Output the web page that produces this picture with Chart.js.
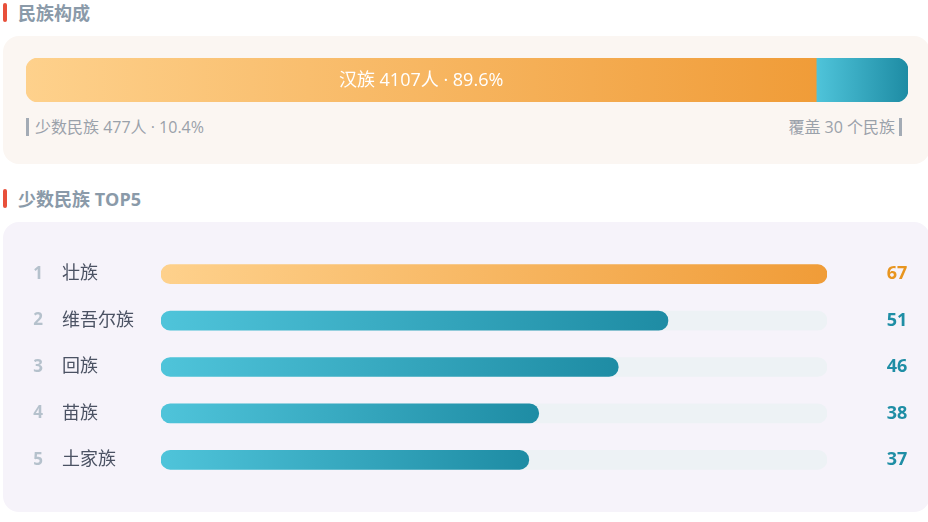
<!DOCTYPE html>
<html><head><meta charset="utf-8">
<script src="https://cdn.jsdelivr.net/npm/chart.js@4/dist/chart.umd.min.js"></script>
<style>
html,body{margin:0;padding:0;background:#fff;width:928px;height:522px;overflow:hidden;position:relative;font-family:"Open Sans","Noto Sans CJK SC",sans-serif;}
.ttl{position:absolute;left:18px;font-size:18px;font-weight:bold;color:#8a9aa9;line-height:22px;}
.mk{position:absolute;left:3px;width:4px;height:19px;border-radius:2px;background:#e8503a;}
.panel{position:absolute;left:3px;width:927px;border-radius:16px;}
.sub{position:absolute;font-size:16px;color:#9aa1aa;line-height:20px;top:117px;}
.bar{position:absolute;width:3px;height:18px;background:#a3abb5;top:118px;}
canvas{position:absolute;}
</style></head>
<body>
<div class="mk" style="top:3px"></div><div class="ttl" style="top:2px">民族构成</div>
<div class="panel" style="top:36px;height:128px;background:#fbf6f2"></div>
<div class="bar" style="left:26px"></div><div class="sub" id="subL" style="left:35px"></div>
<div class="bar" style="left:899px"></div><div class="sub" id="subR" style="right:33px"></div>
<div class="mk" style="top:189px"></div><div class="ttl" style="top:188px">少数民族 TOP5</div>
<div class="panel" style="top:222px;height:290px;background:#f6f3fa"></div>
<div style="position:absolute;left:26px;top:58px;width:882px;height:44px"><canvas id="c1"></canvas></div>
<div style="position:absolute;left:0;top:251px;width:928px;height:232px"><canvas id="c2"></canvas></div>
<script>
const compositionLabels = ['汉族', '少数民族'];
const compositionValues = [4107, 477];
const groupCount = 30;
const topNames = ['壮族', '维吾尔族', '回族', '苗族', '土家族'];
const topValues = [67, 51, 46, 38, 37];

const FONT = '"Open Sans","Noto Sans CJK SC",sans-serif';
const total = compositionValues.reduce((a, b) => a + b, 0);
const pct = v => (v / total * 100).toFixed(1) + '%';
document.getElementById('subL').textContent = compositionLabels[1] + ' ' + compositionValues[1] + '人 · ' + pct(compositionValues[1]);
document.getElementById('subR').textContent = '覆盖 ' + groupCount + ' 个民族';

function grad(chart, x0, x1, c0, c1) {
  const ctx = chart.ctx;
  const g = ctx.createLinearGradient(x0, 0, x1, 0);
  g.addColorStop(0, c0); g.addColorStop(1, c1);
  return g;
}
const ORANGE = ['#fed18c', '#f09c38'];
const TEAL = ['#4fc4da', '#1e8ca4'];

const labelPlugin1 = {
  id: 'lbl1',
  afterDatasetsDraw(chart) {
    const meta = chart.getDatasetMeta(0);
    const el = meta.data[0];
    const ctx = chart.ctx;
    ctx.save();
    ctx.fillStyle = '#ffffff';
    ctx.font = '18px ' + FONT;
    ctx.textAlign = 'center'; ctx.textBaseline = 'middle';
    const x = (el.base + el.x) / 2;
    ctx.fillText(compositionLabels[0] + ' ' + compositionValues[0] + '人 · ' + pct(compositionValues[0]), x, el.y + 1);
    ctx.restore();
  }
};

new Chart(document.getElementById('c1'), {
  type: 'bar',
  data: {
    labels: ['构成'],
    datasets: [
      { data: [compositionValues[0]], borderSkipped: false,
        borderRadius: { topLeft: 12, bottomLeft: 12, topRight: 0, bottomRight: 0 },
        backgroundColor: c => { const s = c.chart.scales.x; if (!s || !c.chart.chartArea) return ORANGE[1];
          return grad(c.chart, s.getPixelForValue(0), s.getPixelForValue(compositionValues[0]), ORANGE[0], ORANGE[1]); } },
      { data: [compositionValues[1]], borderSkipped: false,
        borderRadius: { topLeft: 0, bottomLeft: 0, topRight: 12, bottomRight: 12 },
        backgroundColor: c => { const s = c.chart.scales.x; if (!s || !c.chart.chartArea) return TEAL[1];
          return grad(c.chart, s.getPixelForValue(compositionValues[0]), s.getPixelForValue(total), TEAL[0], TEAL[1]); } }
    ]
  },
  options: {
    indexAxis: 'y', responsive: true, maintainAspectRatio: false, animation: false,
    barPercentage: 1, categoryPercentage: 1,
    layout: { padding: 0 },
    plugins: { legend: { display: false }, tooltip: { enabled: false } },
    scales: { x: { stacked: true, display: false, min: 0, max: total }, y: { stacked: true, display: false } }
  },
  plugins: [labelPlugin1]
});

const maxV = Math.max(...topValues);
const labelPlugin2 = {
  id: 'lbl2',
  afterDatasetsDraw(chart) {
    const ctx = chart.ctx;
    const ys = chart.scales.y;
    ctx.save();
    ctx.textBaseline = 'middle';
    topNames.forEach((n, i) => {
      const y = ys.getPixelForValue(i);
      ctx.font = 'bold 17px ' + FONT; ctx.fillStyle = '#b5c1cc'; ctx.textAlign = 'center';
      ctx.fillText(String(i + 1), 38, y);
      ctx.font = '18px ' + FONT; ctx.fillStyle = '#4b5263'; ctx.textAlign = 'left';
      ctx.fillText(n, 62, y);
      ctx.font = 'bold 18px ' + FONT; ctx.fillStyle = i === 0 ? '#e8951f' : '#1f8ea5'; ctx.textAlign = 'center';
      ctx.fillText(String(topValues[i]), 897, y);
    });
    ctx.restore();
  }
};

new Chart(document.getElementById('c2'), {
  type: 'bar',
  data: {
    labels: topNames,
    datasets: [
      { data: topValues, order: 0, grouped: false, barThickness: 19, borderRadius: 10, borderSkipped: false,
        backgroundColor: c => { const s = c.chart.scales.x; if (!s || !c.chart.chartArea) return TEAL[1];
          const cols = c.dataIndex === 0 ? ORANGE : TEAL;
          return grad(c.chart, s.getPixelForValue(0), s.getPixelForValue(topValues[c.dataIndex]), cols[0], cols[1]); } },
      { data: topValues.map(() => maxV), order: 1, grouped: false, barThickness: 19, borderRadius: 10, borderSkipped: false,
        backgroundColor: '#edf2f5' }
    ]
  },
  options: {
    indexAxis: 'y', responsive: true, maintainAspectRatio: false, animation: false,
    layout: { padding: { left: 161, right: 101, top: 0, bottom: 0 } },
    plugins: { legend: { display: false }, tooltip: { enabled: false } },
    scales: { x: { display: false, min: 0, max: maxV }, y: { display: false } }
  },
  plugins: [labelPlugin2]
});
</script>
</body></html>
